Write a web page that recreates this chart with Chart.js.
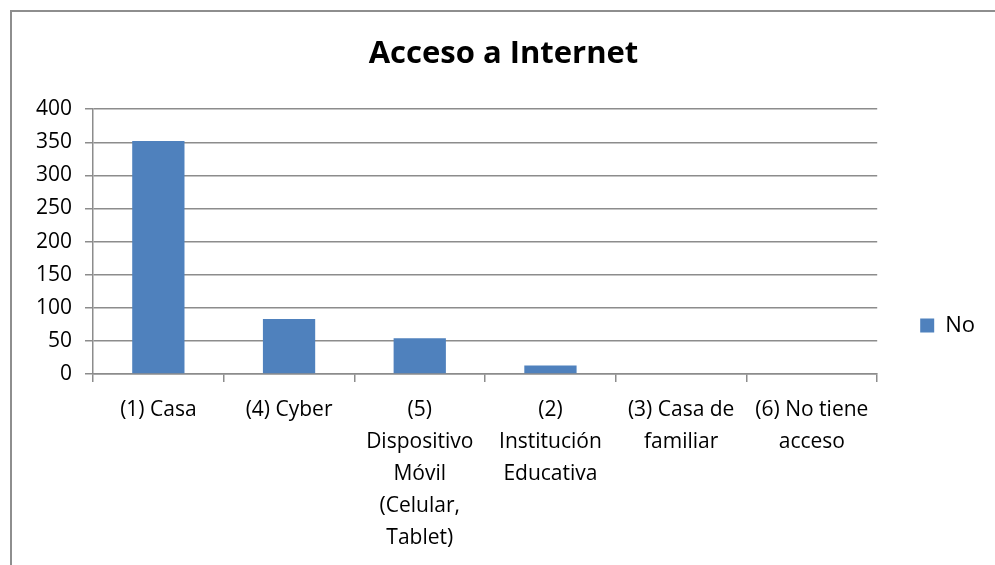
<!DOCTYPE html>
<html>
<head>
<meta charset="utf-8">
<script src="https://cdn.jsdelivr.net/npm/chart.js@4"></script>
<style>
body{margin:0;background:#fff;overflow:hidden;}
#frame{position:absolute;left:10px;top:10px;width:1000px;height:600px;border:2px solid #8e8e8e;box-sizing:border-box;}
#chart{position:absolute;left:0;top:0;}
</style>
</head>
<body>
<div id="frame"></div>
<canvas id="chart" width="995" height="565"></canvas>
<script>
// categorias y valores
var categorias = [
	"(1) Casa",
	"(4) Cyber",
	["(5)", "Dispositivo", "Móvil", "(Celular,", "Tablet)"],
	["(2)", "Institución", "Educativa"],
	["(3) Casa de", "familiar"],
	["(6) No tiene", "acceso"]
];
var valoresNo = [352, 83, 54, 13, 0, 0];
var serieNombre = "No";
var tituloTexto = "Acceso a Internet";

var fuente = "'Open Sans', Lato, sans-serif";
var gris = "#8c8c8c";

var ctx = document.getElementById("chart");
var myChart = new Chart(ctx, {
	type: 'bar',
	data: {
		labels: categorias,
		datasets: [{
			label: serieNombre,
			data: valoresNo,
			backgroundColor: '#4f81bd',
			borderWidth: 0,
			categoryPercentage: 1,
			barPercentage: 0.4
		}]
	},
	options: {
		responsive: false,
		animation: false,
		events: [],
		layout: {
			padding: {left: 22, right: 10, top: 0, bottom: 0}
		},
		plugins: {
			title: {
				display: true,
				text: tituloTexto,
				color: '#000',
				font: {family: fuente, size: 31, weight: 'bold', lineHeight: 1.2},
				padding: {top: 36, bottom: 36}
			},
			legend: {
				position: 'right',
				// titulo vacio solo para bajar la leyenda como en el original
				title: {display: true, text: ' ', font: {size: 20, lineHeight: 1.2}, padding: {top: 0, bottom: 62}},
				labels: {
					color: '#000',
					font: {family: fuente, size: 22},
					boxWidth: 14,
					boxHeight: 14,
					padding: 43
				}
			},
			tooltip: {enabled: false}
		},
		scales: {
			x: {
				grid: {
					display: true,
					drawOnChartArea: false,
					drawTicks: true,
					tickLength: 8,
					color: gris,
					lineWidth: 1.5,
					offset: true
				},
				border: {display: true, color: gris, width: 1.5},
				ticks: {
					color: '#000',
					font: {family: fuente, size: 21, lineHeight: 1.52},
					padding: 12,
					maxRotation: 0,
					autoSkip: false
				},
				afterFit: function(scale) { scale.height = 191; }
			},
			y: {
				min: 0,
				max: 400,
				ticks: {
					stepSize: 50,
					color: '#000',
					font: {family: fuente, size: 21},
					padding: 13
				},
				grid: {
					color: gris,
					lineWidth: 1.5,
					tickLength: 8
				},
				border: {display: true, color: gris, width: 1.5},
				afterFit: function(scale) { scale.width = 71; }
			}
		}
	}
});
</script>
</body>
</html>
